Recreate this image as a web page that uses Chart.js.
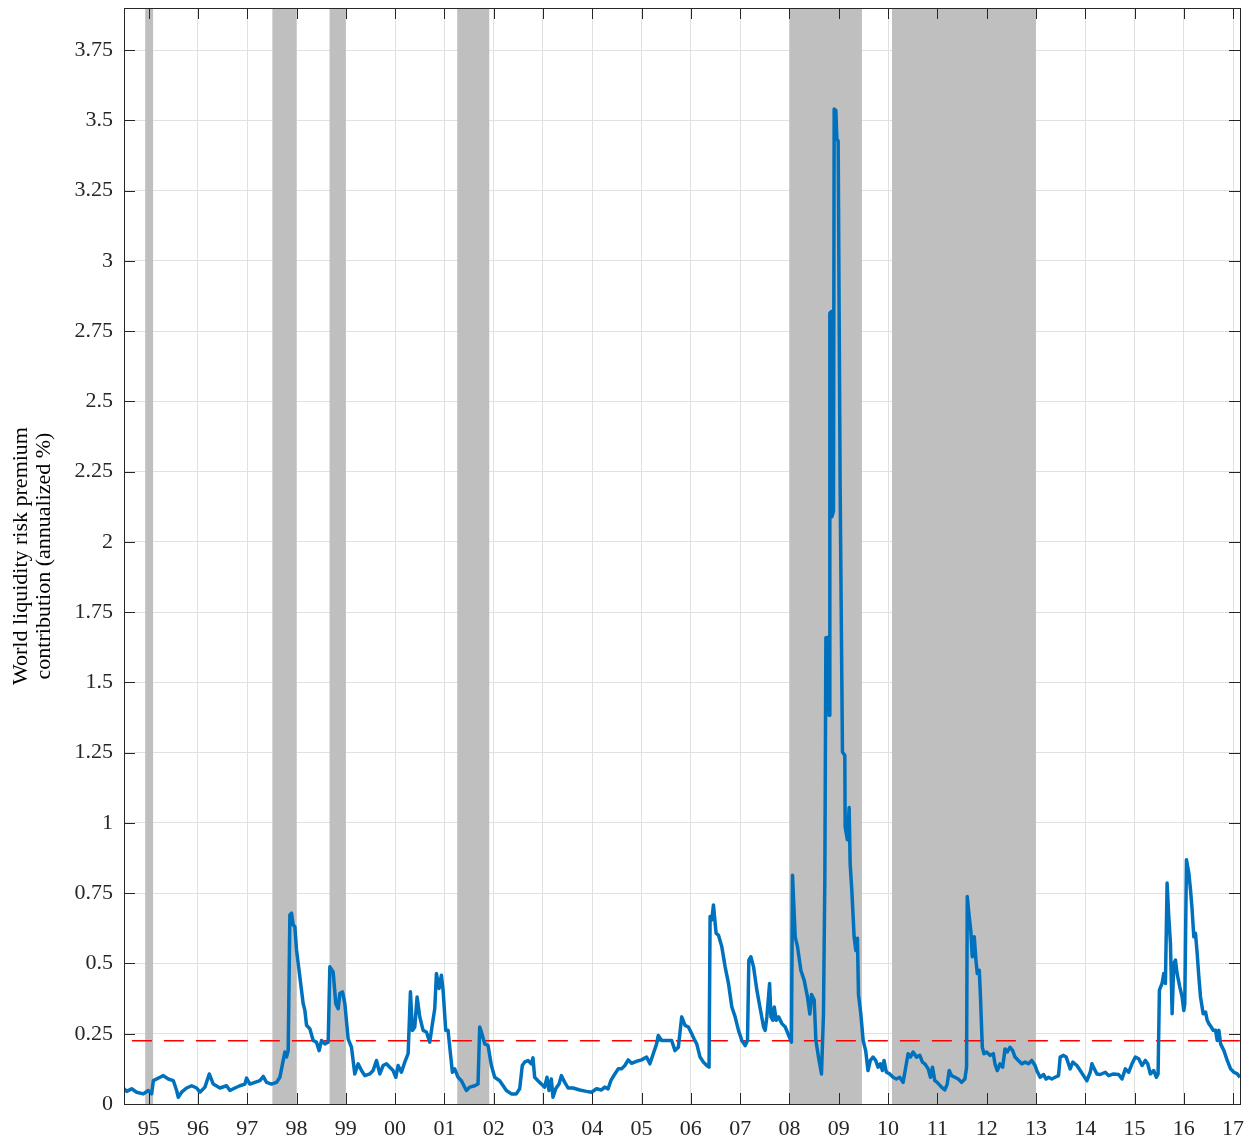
<!DOCTYPE html>
<html lang="en">
<head>
<meta charset="UTF-8">
<title>World liquidity risk premium contribution</title>
<script src="https://cdn.jsdelivr.net/npm/chart.js"></script>
<style>
    html, body { margin: 0; padding: 0; background: #fff; }
    #wrap { width: 1251px; height: 1141px; position: relative; }
</style>
</head>
<body>
<div id="wrap"><canvas id="liqChart"></canvas></div>
<script>
// decimal years and the premium contribution (annualized %)
const years = [
    1994.500, 1994.554, 1994.655, 1994.757, 1994.892, 1994.993, 1995.061, 1995.095, 1995.230, 1995.297,
    1995.399, 1995.500, 1995.568, 1995.601, 1995.669, 1995.770, 1995.872, 1995.973, 1996.041, 1996.142,
    1996.230, 1996.311, 1996.446, 1996.581, 1996.649, 1996.750, 1996.851, 1996.953, 1996.986, 1997.054,
    1997.155, 1997.257, 1997.324, 1997.392, 1997.493, 1997.595, 1997.662, 1997.730, 1997.764, 1997.797,
    1997.831, 1997.865, 1997.899, 1997.932, 1997.966, 1998.000, 1998.068, 1998.135, 1998.169, 1998.203,
    1998.270, 1998.338, 1998.405, 1998.459, 1998.507, 1998.574, 1998.642, 1998.676, 1998.743, 1998.797,
    1998.845, 1998.878, 1998.932, 1998.980, 1999.047, 1999.115, 1999.182, 1999.250, 1999.318, 1999.385,
    1999.486, 1999.554, 1999.622, 1999.689, 1999.757, 1999.824, 1999.892, 1999.959, 2000.014, 2000.061,
    2000.128, 2000.196, 2000.264, 2000.311, 2000.351, 2000.399, 2000.446, 2000.500, 2000.568, 2000.635,
    2000.703, 2000.757, 2000.804, 2000.838, 2000.892, 2000.939, 2000.973, 2001.027, 2001.074, 2001.122,
    2001.162, 2001.209, 2001.277, 2001.345, 2001.446, 2001.514, 2001.615, 2001.682, 2001.716, 2001.750,
    2001.818, 2001.885, 2001.953, 2002.020, 2002.122, 2002.257, 2002.358, 2002.459, 2002.527, 2002.580,
    2002.627, 2002.695, 2002.763, 2002.797, 2002.831, 2002.898, 2002.966, 2003.034, 2003.081, 2003.122,
    2003.169, 2003.203, 2003.258, 2003.325, 2003.373, 2003.441, 2003.508, 2003.610, 2003.746, 2003.881,
    2003.983, 2004.085, 2004.186, 2004.254, 2004.322, 2004.376, 2004.458, 2004.525, 2004.593, 2004.661,
    2004.729, 2004.797, 2004.898, 2005.000, 2005.102, 2005.169, 2005.237, 2005.305, 2005.339, 2005.407,
    2005.508, 2005.610, 2005.678, 2005.746, 2005.814, 2005.881, 2005.949, 2006.017, 2006.064, 2006.119,
    2006.186, 2006.254, 2006.322, 2006.369, 2006.390, 2006.424, 2006.458, 2006.512, 2006.559, 2006.627,
    2006.695, 2006.763, 2006.831, 2006.898, 2006.966, 2007.034, 2007.102, 2007.149, 2007.176, 2007.217,
    2007.271, 2007.339, 2007.407, 2007.475, 2007.508, 2007.542, 2007.597, 2007.624, 2007.664, 2007.692,
    2007.732, 2007.780, 2007.847, 2007.915, 2007.983, 2008.040, 2008.062, 2008.117, 2008.163, 2008.232,
    2008.299, 2008.366, 2008.414, 2008.447, 2008.502, 2008.536, 2008.589, 2008.650, 2008.690, 2008.718,
    2008.739, 2008.771, 2008.805, 2008.819, 2008.852, 2008.860, 2008.893, 2008.907, 2008.941, 2008.962,
    2008.988, 2009.028, 2009.075, 2009.123, 2009.130, 2009.176, 2009.211, 2009.231, 2009.265, 2009.312,
    2009.347, 2009.379, 2009.400, 2009.448, 2009.495, 2009.546, 2009.593, 2009.641, 2009.695, 2009.749,
    2009.797, 2009.844, 2009.885, 2009.919, 2009.966, 2010.034, 2010.102, 2010.169, 2010.237, 2010.305,
    2010.359, 2010.407, 2010.454, 2010.508, 2010.576, 2010.644, 2010.698, 2010.746, 2010.814, 2010.861,
    2010.902, 2010.949, 2010.997, 2011.085, 2011.153, 2011.200, 2011.241, 2011.288, 2011.356, 2011.424,
    2011.492, 2011.559, 2011.593, 2011.607, 2011.647, 2011.681, 2011.708, 2011.749, 2011.783, 2011.810,
    2011.851, 2011.878, 2011.912, 2011.946, 2012.000, 2012.068, 2012.136, 2012.169, 2012.217, 2012.271,
    2012.325, 2012.373, 2012.420, 2012.475, 2012.529, 2012.576, 2012.644, 2012.712, 2012.780, 2012.847,
    2012.915, 2012.983, 2013.017, 2013.085, 2013.153, 2013.207, 2013.254, 2013.322, 2013.390, 2013.458,
    2013.492, 2013.559, 2013.614, 2013.661, 2013.695, 2013.749, 2013.831, 2013.898, 2013.966, 2014.034,
    2014.102, 2014.136, 2014.169, 2014.237, 2014.305, 2014.407, 2014.475, 2014.576, 2014.678, 2014.746,
    2014.814, 2014.881, 2014.949, 2015.017, 2015.085, 2015.153, 2015.220, 2015.268, 2015.322, 2015.390,
    2015.444, 2015.478, 2015.505, 2015.559, 2015.593, 2015.627, 2015.661, 2015.695, 2015.729, 2015.763,
    2015.797, 2015.831, 2015.864, 2015.919, 2015.966, 2016.000, 2016.020, 2016.054, 2016.102, 2016.136,
    2016.169, 2016.203, 2016.237, 2016.271, 2016.305, 2016.339, 2016.393, 2016.441, 2016.475, 2016.508,
    2016.556, 2016.597, 2016.644, 2016.678, 2016.712, 2016.746, 2016.814, 2016.881, 2016.949, 2017.017,
    2017.085, 2017.140
];
const premium = [
    0.054, 0.045, 0.054, 0.042, 0.036, 0.048, 0.036, 0.083, 0.095, 0.101,
    0.089, 0.083, 0.048, 0.024, 0.042, 0.057, 0.065, 0.057, 0.042, 0.060,
    0.107, 0.071, 0.057, 0.065, 0.048, 0.057, 0.065, 0.071, 0.092, 0.071,
    0.077, 0.083, 0.098, 0.077, 0.071, 0.077, 0.095, 0.155, 0.185, 0.167,
    0.190, 0.673, 0.679, 0.637, 0.631, 0.548, 0.452, 0.357, 0.333, 0.280,
    0.268, 0.226, 0.220, 0.190, 0.226, 0.214, 0.220, 0.488, 0.470, 0.357,
    0.339, 0.393, 0.399, 0.357, 0.232, 0.202, 0.107, 0.143, 0.119, 0.101,
    0.107, 0.119, 0.155, 0.107, 0.137, 0.143, 0.131, 0.119, 0.095, 0.137,
    0.113, 0.149, 0.179, 0.399, 0.262, 0.274, 0.381, 0.310, 0.262, 0.256,
    0.220, 0.286, 0.339, 0.464, 0.411, 0.458, 0.405, 0.262, 0.262, 0.179,
    0.113, 0.125, 0.095, 0.083, 0.048, 0.060, 0.065, 0.071, 0.274, 0.256,
    0.214, 0.208, 0.137, 0.095, 0.083, 0.048, 0.036, 0.036, 0.054, 0.137,
    0.149, 0.155, 0.143, 0.164, 0.095, 0.083, 0.071, 0.060, 0.095, 0.048,
    0.089, 0.024, 0.054, 0.071, 0.101, 0.077, 0.057, 0.057, 0.050, 0.045,
    0.042, 0.054, 0.050, 0.060, 0.054, 0.083, 0.107, 0.125, 0.125, 0.137,
    0.157, 0.145, 0.152, 0.157, 0.167, 0.143, 0.179, 0.214, 0.244, 0.226,
    0.226, 0.226, 0.190, 0.202, 0.310, 0.280, 0.274, 0.250, 0.232, 0.214,
    0.167, 0.149, 0.137, 0.131, 0.667, 0.655, 0.708, 0.607, 0.601, 0.560,
    0.488, 0.429, 0.345, 0.310, 0.262, 0.226, 0.208, 0.226, 0.512, 0.524,
    0.488, 0.405, 0.339, 0.274, 0.262, 0.310, 0.429, 0.310, 0.298, 0.345,
    0.298, 0.310, 0.286, 0.274, 0.244, 0.220, 0.814, 0.594, 0.560, 0.475,
    0.440, 0.380, 0.320, 0.390, 0.370, 0.226, 0.167, 0.107, 0.320, 0.808,
    1.659, 1.660, 1.383, 2.814, 2.820, 2.090, 2.110, 3.541, 3.535, 3.434,
    3.426, 2.200, 1.253, 1.240, 0.986, 0.940, 1.055, 0.855, 0.760, 0.594,
    0.546, 0.590, 0.390, 0.320, 0.226, 0.190, 0.119, 0.155, 0.167, 0.155,
    0.131, 0.143, 0.119, 0.155, 0.113, 0.107, 0.095, 0.089, 0.095, 0.077,
    0.131, 0.179, 0.167, 0.185, 0.167, 0.173, 0.149, 0.143, 0.125, 0.095,
    0.131, 0.083, 0.077, 0.060, 0.050, 0.071, 0.119, 0.101, 0.095, 0.089,
    0.077, 0.089, 0.131, 0.738, 0.667, 0.613, 0.524, 0.595, 0.512, 0.464,
    0.476, 0.369, 0.202, 0.179, 0.185, 0.173, 0.179, 0.143, 0.119, 0.143,
    0.131, 0.196, 0.185, 0.202, 0.190, 0.167, 0.155, 0.143, 0.149, 0.143,
    0.155, 0.137, 0.119, 0.095, 0.105, 0.089, 0.095, 0.089, 0.095, 0.101,
    0.167, 0.173, 0.167, 0.143, 0.125, 0.149, 0.137, 0.119, 0.101, 0.083,
    0.113, 0.143, 0.131, 0.107, 0.105, 0.113, 0.101, 0.107, 0.105, 0.089,
    0.125, 0.113, 0.143, 0.167, 0.161, 0.137, 0.155, 0.143, 0.107, 0.119,
    0.095, 0.107, 0.405, 0.429, 0.464, 0.429, 0.786, 0.667, 0.571, 0.321,
    0.500, 0.512, 0.464, 0.417, 0.381, 0.333, 0.357, 0.869, 0.821, 0.762,
    0.690, 0.595, 0.607, 0.536, 0.452, 0.381, 0.321, 0.327, 0.298, 0.286,
    0.274, 0.262, 0.262, 0.226, 0.262, 0.214, 0.190, 0.155, 0.125, 0.113,
    0.107, 0.095
];

// shaded crisis periods
const crisisStart = [1994.93, 1997.51, 1998.67, 2001.26, 2008.00, 2010.08];
const crisisEnd   = [1995.09, 1998.00, 1999.00, 2001.91, 2009.47, 2013.00];

// sample average, dashed red
const avgPremium = 0.225;
const avgFrom = 1994.66;

const xTickYears = [1995, 1996, 1997, 1998, 1999, 2000, 2001, 2002, 2003, 2004, 2005, 2006,
                    2007, 2008, 2009, 2010, 2011, 2012, 2013, 2014, 2015, 2016, 2017];
const yTickValues = [0, 0.25, 0.5, 0.75, 1, 1.25, 1.5, 1.75, 2, 2.25, 2.5, 2.75, 3, 3.25, 3.5, 3.75];
const yTitle = ['World liquidity risk premium', 'contribution (annualized %)'];

const X_MIN = 1994.5, X_MAX = 2017.14;
const Y_MIN = 0, Y_MAX = 3.9;
const axisColor = '#262626';
const fontFamily = '"Liberation Serif", "Times New Roman", serif';

// grey bands, inward tick marks, box and the y title
const decorPlugin = {
    id: 'decor',
    beforeDatasetsDraw(chart) {
        const { ctx, chartArea: a, scales: { x } } = chart;
        ctx.save();
        ctx.fillStyle = '#bfbfbf';
        crisisStart.forEach((s, i) => {
            const x0 = x.getPixelForValue(s);
            const x1 = x.getPixelForValue(crisisEnd[i]);
            ctx.fillRect(x0, a.top, x1 - x0, a.bottom - a.top);
        });
        ctx.restore();
    },
    afterDraw(chart) {
        const { ctx, chartArea: a, scales: { x, y } } = chart;
        ctx.save();
        ctx.strokeStyle = axisColor;
        ctx.lineWidth = 1;
        ctx.beginPath();
        xTickYears.forEach(v => {
            const px = Math.round(x.getPixelForValue(v)) + 0.5;
            ctx.moveTo(px, a.bottom); ctx.lineTo(px, a.bottom - 11);
            ctx.moveTo(px, a.top); ctx.lineTo(px, a.top + 11);
        });
        yTickValues.forEach(v => {
            const py = Math.round(y.getPixelForValue(v)) + 0.5;
            ctx.moveTo(a.left, py); ctx.lineTo(a.left + 11, py);
            ctx.moveTo(a.right, py); ctx.lineTo(a.right - 11, py);
        });
        ctx.stroke();
        ctx.strokeRect(Math.round(a.left) + 0.5, Math.round(a.top) + 0.5,
                       Math.round(a.right - a.left), Math.round(a.bottom - a.top));

        ctx.fillStyle = '#000';
        ctx.font = '22px ' + fontFamily;
        ctx.textAlign = 'center';
        ctx.textBaseline = 'middle';
        ctx.translate(33, (a.top + a.bottom) / 2);
        ctx.rotate(-Math.PI / 2);
        ctx.fillText(yTitle[0], 0, -11.5);
        ctx.fillText(yTitle[1], 0, 11.5);
        ctx.restore();
    }
};

new Chart(document.getElementById('liqChart'), {
    type: 'line',
    data: {
        datasets: [
            {
                data: years.map((yr, i) => ({ x: yr, y: premium[i] })),
                borderColor: '#0072BD',
                borderWidth: 3.5,
                pointRadius: 0,
                tension: 0,
                borderJoinStyle: 'round',
                order: 1
            },
            {
                data: [{ x: avgFrom, y: avgPremium }, { x: X_MAX, y: avgPremium }],
                borderColor: '#ff0000',
                borderWidth: 1.5,
                borderDash: [20, 12],
                pointRadius: 0,
                order: 2
            }
        ]
    },
    options: {
        responsive: true,
        maintainAspectRatio: false,
        animation: false,
        layout: { padding: { left: 0, top: 8, right: 11, bottom: 0 } },
        plugins: { legend: { display: false }, tooltip: { enabled: false } },
        scales: {
            x: {
                type: 'linear',
                min: X_MIN,
                max: X_MAX,
                afterBuildTicks: axis => { axis.ticks = xTickYears.map(v => ({ value: v })); },
                afterFit: axis => {
                    axis.height = 37;
                    axis.paddingLeft = 0;
                    axis.paddingRight = 0;
                },
                grid: { color: '#e1e1e1', lineWidth: 1, drawTicks: false },
                border: { display: false },
                ticks: {
                    autoSkip: false,
                    maxRotation: 0,
                    padding: 12,
                    color: axisColor,
                    font: { family: fontFamily, size: 22 },
                    callback: v => String(v % 100).padStart(2, '0')
                }
            },
            y: {
                min: Y_MIN,
                max: Y_MAX,
                afterBuildTicks: axis => { axis.ticks = yTickValues.map(v => ({ value: v })); },
                afterFit: axis => {
                    axis.width = 124;
                    axis.paddingTop = 0;
                    axis.paddingBottom = 0;
                },
                grid: { color: '#e1e1e1', lineWidth: 1, drawTicks: false },
                border: { display: false },
                ticks: {
                    padding: 11,
                    color: axisColor,
                    font: { family: fontFamily, size: 22 },
                    callback: v => String(v)
                }
            }
        }
    },
    plugins: [decorPlugin]
});
</script>
</body>
</html>
